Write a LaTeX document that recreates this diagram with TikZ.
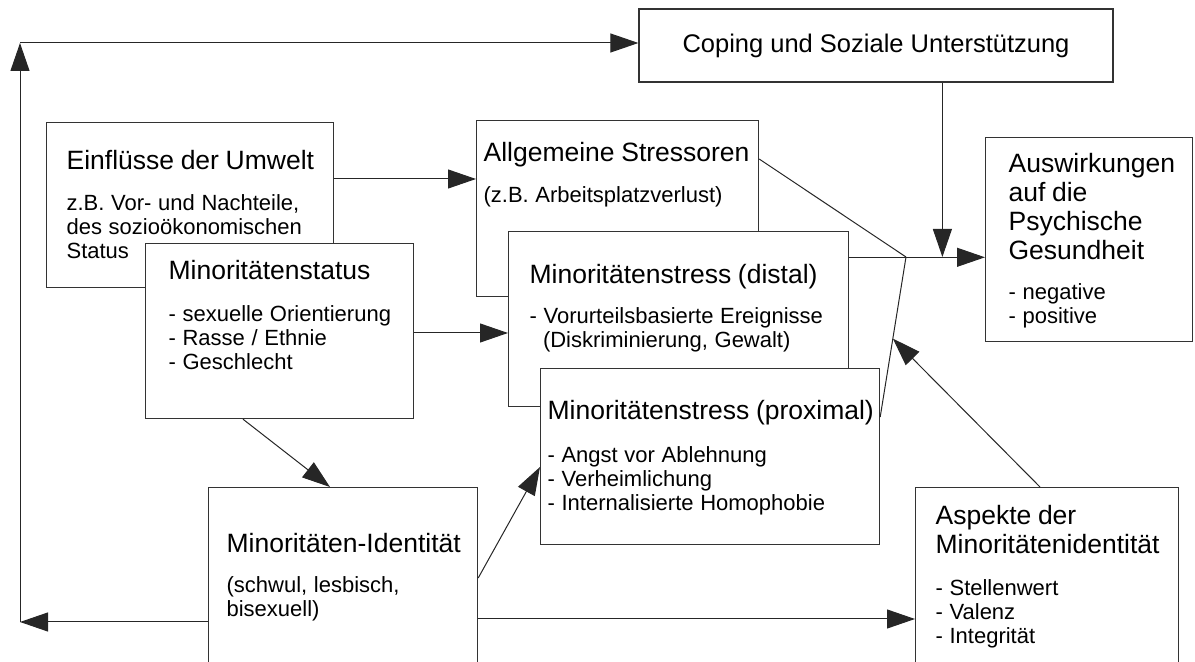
\documentclass[tikz,border=0pt]{standalone}
\usepackage{fontspec}
\setmainfont{Liberation Sans}
\usetikzlibrary{arrows.meta,calc}
\newcommand{\hd}{\fontsize{13.25}{14.5}\selectfont}
\newcommand{\sm}{\fontsize{11}{12}\selectfont}
\tikzstyle{mbox}=[rectangle, draw=black!80, line width=0.6pt, fill=white,
 anchor=north west, inner sep=0pt, align=left]
\tikzstyle{cbox}=[rectangle, draw=black!80, line width=0.6pt, fill=white,
 inner sep=0pt, text centered, font=\fontsize{12.75}{14}\selectfont]
\tikzstyle{pline}=[-, draw=black!85, line width=0.5pt]
\tikzstyle{parrow}=[-{Triangle[length=14pt,width=9.5pt]}, draw=black!85, line width=0.5pt]

\begin{document}
\begin{tikzpicture}[x=0.5pt,y=-0.5pt]
\useasboundingbox (0,0) rectangle (1195,662);
\clip (0,0) rectangle (1195,662);

% top
\node (coping) [cbox, minimum width=237pt, minimum height=36.5pt] at (876,45.5)
 {Coping und Soziale Unterstützung};

% left column
\node (einfl) [mbox, text width=143.5pt, text height=23.5pt, text depth=59pt] at (46,122)
 {\leftskip=10pt {\hd Einflüsse der Umwelt\par}\vspace{8.5pt}%
 {\sm z.B. Vor- und Nachteile,\\des sozioökonomischen\\Status\par}};
\node (mstat) [mbox, text width=134pt, text height=18pt, text depth=69.5pt] at (145,243)
 {\leftskip=11.5pt {\hd Minoritätenstatus\par}\vspace{9pt}%
 {\sm - sexuelle Orientierung\\- Rasse / Ethnie\\- Geschlecht\par}};

% stressors
\node (allg) [mbox, text width=141pt, text height=20.5pt, text depth=67.5pt] at (476,120)
 {\leftskip=3.5pt {\hd Allgemeine Stressoren\par}\vspace{8.5pt}%
 {\sm (z.B. Arbeitsplatzverlust)\par}};
\node (distal) [mbox, text width=170pt, text height=26pt, text depth=61.5pt] at (508,231)
 {\leftskip=10.5pt {\hd Minoritätenstress (distal)\par}\vspace{8pt}%
 {\sm - Vorurteilsbasierte Ereignisse\\\hspace*{6.7pt}(Diskriminierung, Gewalt)\par}};
\node (prox) [mbox, text width=169.5pt, text height=25.5pt, text depth=62.5pt] at (540,368)
 {\leftskip=3.5pt {\hd \mbox{Minoritätenstress (proximal)}\par}\vspace{9.5pt}%
 {\sm - Angst vor Ablehnung\\- Verheimlichung\\- Internalisierte Homophobie\par}};

% right column
\node (ausw) [mbox, text width=103.5pt, text height=17.5pt, text depth=84.5pt] at (985,137)
 {\leftskip=11.5pt {\hd Auswirkungen\\auf die\\Psychische\\Gesundheit\par}\vspace{8pt}%
 {\sm - negative\\- positive\par}};

% bottom
\node (ident) [mbox, text width=134.5pt, text height=32.5pt, text depth=67.5pt] at (208,487)
 {\leftskip=9pt {\hd Minoritäten-Identität\par}\vspace{8pt}%
 {\sm (schwul, lesbisch,\\bisexuell)\par}};
\node (aspekte) [mbox, text width=131.5pt, text height=18.5pt, text depth=81.5pt] at (915,487)
 {\leftskip=10pt {\hd Aspekte der\\Minoritätenidentität\par}\vspace{9pt}%
 {\sm - Stellenwert\\- Valenz\\- Integrität\par}};

\coordinate (J) at (906,257);
\coordinate (L1) at (20,622);
\coordinate (L2) at (20,43);

\draw[parrow] ($(einfl.north east)+(0,57)$) coordinate (a1) -- (a1 -| allg.west);
\draw[parrow] ($(mstat.north east)+(0,90)$) coordinate (a2) -- (a2 -| distal.west);
\draw[parrow] ($(mstat.south west)+(98,0)$) -- ($(ident.north west)+(122,0)$);
\draw[parrow] ($(ident.north east)+(0,91)$) -- ($(prox.north west)+(0,99)$);
\draw[parrow] ($(ident.north east)+(0,132)$) coordinate (a5) -- (a5 -| aspekte.west);
\draw[parrow] ($(ident.north west)+(0,135)$) -- (L1);
\draw[parrow] (L1) -- (L2);
\draw[parrow] (L2) -- (L2 -| coping.west);
\draw[parrow] ($(coping.south west)+(304,0)$) coordinate (a7) -- (a7 |- J);

\draw[pline] ($(allg.north east)+(0,39)$) -- (J);
\draw[pline] ($(prox.north east)+(0,49)$) coordinate (a9) -- (J);
\draw[parrow] ($(distal.north east |- J)+(0,0.3)$) -- ($(J)+(0,0.3)$) -- ($(J -| ausw.west)+(0,0.3)$);
\draw[parrow] ($(aspekte.north west)+(125,0)$) -- ($(a9)!0.49!(J)$);

\end{tikzpicture}
\end{document}
